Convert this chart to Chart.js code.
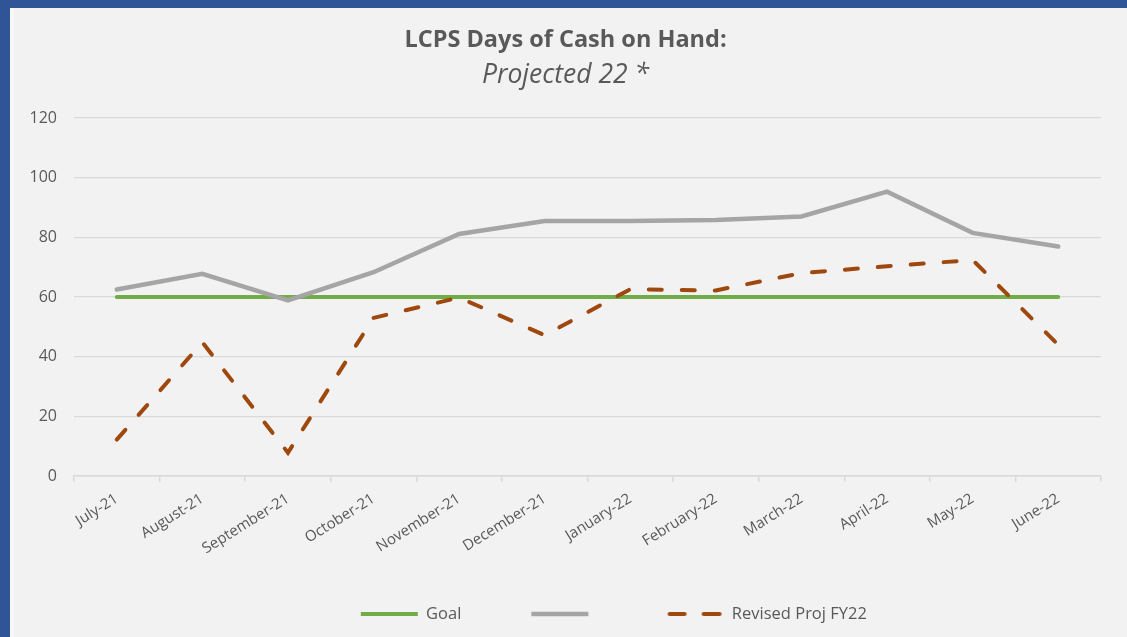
<!DOCTYPE html>
<html>
<head>
<meta charset="utf-8">
<script src="https://cdn.jsdelivr.net/npm/chart.js@4/dist/chart.umd.min.js"></script>
<style>
  html, body { margin: 0; padding: 0; }
  body { width: 1127px; height: 637px; background: #2f5597; position: relative; overflow: hidden; }
  #frame { position: absolute; left: 10px; top: 8px; width: 1117px; height: 629px; background: #f2f2f2; border-left: 4px solid #f7f7f7; box-sizing: border-box; }
  #wrap { position: absolute; left: 0; top: 0; width: 1113px; height: 629px; }
</style>
</head>
<body>
<div id="frame"><div id="wrap"><canvas id="cashChart"></canvas></div></div>
<script>
const months = ['July-21', 'August-21', 'September-21', 'October-21', 'November-21', 'December-21',
  'January-22', 'February-22', 'March-22', 'April-22', 'May-22', 'June-22'];
const goal = [60, 60, 60, 60, 60, 60, 60, 60, 60, 60, 60, 60];
const projected = [62.5, 67.8, 58.9, 68.3, 81.1, 85.5, 85.5, 85.8, 87, 95.3, 81.5, 76.9];
const revised = [12.2, 44.8, 7.8, 53, 59.8, 47.2, 62.6, 62.2, 68, 70.3, 72.4, 44];
const yTicks = [0, 20, 40, 60, 80, 100, 120];

const fontFamily = '"Open Sans", sans-serif';
const textColor = '#595959';

// extra blank space after each legend label (px), so the gaps match the Excel legend
const legendGaps = [62, 59, 0];
// blank lead-in item so the legend sits right of centre like the Excel one
const legendLead = 20;

// legend swatch for the dashed series (point-style legend ignores lineDash)
const dashSwatch = document.createElement('canvas');
dashSwatch.width = 57;
dashSwatch.height = 6;
(() => {
  const c = dashSwatch.getContext('2d');
  c.strokeStyle = '#9e480e';
  c.lineWidth = 4;
  c.lineCap = 'round';
  c.beginPath();
  c.moveTo(3, 3); c.lineTo(18, 3);
  c.moveTo(37, 3); c.lineTo(53, 3);
  c.stroke();
})();

new Chart(document.getElementById('cashChart'), {
  type: 'line',
  data: {
    labels: months,
    datasets: [
      {
        label: 'Goal',
        data: goal,
        borderColor: '#70ad47',
        backgroundColor: '#70ad47',
        borderWidth: 4,
        borderCapStyle: 'round',
        pointRadius: 0,
        pointStyle: 'line',
        order: 3
      },
      {
        label: '',
        data: projected,
        borderColor: '#a5a5a5',
        backgroundColor: '#a5a5a5',
        borderWidth: 4.5,
        borderCapStyle: 'round',
        pointRadius: 0,
        pointStyle: 'line',
        order: 2
      },
      {
        label: 'Revised Proj FY22',
        data: revised,
        borderColor: '#9e480e',
        backgroundColor: '#9e480e',
        borderWidth: 4,
        borderDash: [13, 20],
        borderCapStyle: 'round',
        pointRadius: 0,
        pointStyle: 'line',
        order: 1
      }
    ]
  },
  options: {
    responsive: true,
    maintainAspectRatio: false,
    animation: false,
    layout: { padding: { left: 0, right: 10, top: 0, bottom: 4.75 } },
    plugins: {
      tooltip: { enabled: false },
      title: {
        display: true,
        text: 'LCPS Days of Cash on Hand:',
        color: textColor,
        font: { family: fontFamily, size: 23.5, weight: 'bold' },
        padding: { top: 18.5, bottom: 0 }
      },
      subtitle: {
        display: true,
        text: 'Projected 22 *',
        color: textColor,
        font: { family: fontFamily, size: 26.5, style: 'italic' },
        padding: { top: 5, bottom: 26.5 }
      },
      legend: {
        position: 'bottom',
        labels: {
          usePointStyle: true,
          pointStyleWidth: 57,
          padding: 10,
          color: textColor,
          font: { family: fontFamily, size: 16.5 },
          sort: (a, b) => a.datasetIndex - b.datasetIndex,
          generateLabels: chart => {
            const items = Chart.defaults.plugins.legend.labels.generateLabels(chart);
            const ctx = chart.ctx;
            ctx.save();
            ctx.font = '16.5px ' + fontFamily;
            const sp = ctx.measureText(' ').width || 4;
            ctx.restore();
            items.forEach(item => {
              item.text = item.text + ' '.repeat(Math.round(legendGaps[item.datasetIndex] / sp));
              if (item.datasetIndex === 2) item.pointStyle = dashSwatch;
            });
            items.push({
              text: ' '.repeat(Math.round(legendLead / sp)),
              datasetIndex: -1,
              pointStyle: 'line',
              strokeStyle: 'rgba(0,0,0,0)',
              fillStyle: 'rgba(0,0,0,0)',
              lineWidth: 1,
              hidden: false
            });
            return items;
          }
        },
        onClick: () => {}
      }
    },
    scales: {
      x: {
        offset: true,
        border: { display: true, color: '#d9d9d9', width: 1.5 },
        grid: { display: true, offset: true, drawOnChartArea: false, drawTicks: true, tickLength: 6, color: '#d9d9d9', lineWidth: 1.5 },
        ticks: {
          color: textColor,
          font: { family: fontFamily, size: 15 },
          minRotation: 32,
          maxRotation: 32,
          autoSkip: false,
          padding: 8
        },
        afterFit: s => { s.height = 119.75; }
      },
      y: {
        min: 0,
        max: 120,
        border: { display: false },
        grid: { color: '#d9d9d9', lineWidth: 1.3, drawTicks: false },
        afterBuildTicks: s => { s.ticks = yTicks.map(v => ({ value: v })); },
        ticks: {
          color: textColor,
          font: { family: fontFamily, size: 16 },
          padding: 17
        },
        afterFit: s => { s.width = 60; }
      },
      y2: {
        position: 'right',
        display: true,
        border: { display: false },
        grid: { display: false },
        ticks: { display: false },
        afterFit: s => { s.width = 16; }
      }
    }
  }
});
</script>
</body>
</html>
